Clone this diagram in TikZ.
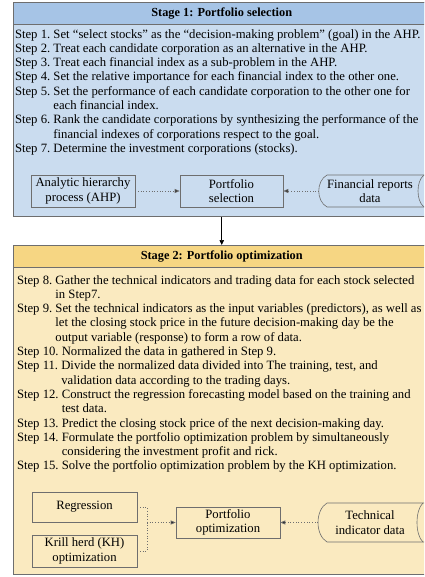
\documentclass[tikz,border=0pt]{standalone}
\usepackage{fontspec}
\setmainfont{Liberation Serif}
\usetikzlibrary{arrows.meta}

\definecolor{bluehead}{HTML}{A6C4E6}
\definecolor{bluebody}{HTML}{CADCEF}
\definecolor{goldhead}{HTML}{F6D683}
\definecolor{goldbody}{HTML}{FAEAC0}
\definecolor{edgegray}{HTML}{6E6E6E}

\newcommand\steptext{\fontsize{12.7}{14.3}\selectfont}
% one step: label column, then the text (continuation rows start with &)
\newcommand\steprow[2]{\begin{tabular}{@{}l@{\ }l@{}}#1&#2\end{tabular}}

\tikzset{
  stagebox/.style={draw=edgegray, line width=0.8pt, anchor=north west,
    minimum width=417.3pt, inner sep=0pt},
  stagehead/.style={stagebox, minimum height=22pt,
    font=\fontsize{12.3}{14}\selectfont\bfseries},
  stepnode/.style={inner sep=0pt, outer sep=0pt, anchor=north west, font=\steptext},
  procbox/.style={draw=edgegray, line width=0.6pt, align=center,
    inner sep=0pt, font=\steptext},
  storetext/.style={align=center, inner sep=0pt, font=\steptext},
  storeline/.style={draw=edgegray, line width=0.6pt},
  dots/.style={draw=edgegray, line width=0.7pt, dotted},
  link/.style={dots, -{Triangle[length=5pt,width=4pt,fill=black!85]}},
  flow/.style={draw=black, line width=0.7pt, -{Triangle[length=5pt,width=4.5pt]}},
}

\begin{document}
\begin{tikzpicture}[x=1pt, y=-1pt]
\clip (0,0) rectangle (424,577);
\fill[white] (0,0) rectangle (424,577);

% ---------------- Stage 1 ----------------
\node[stagebox, fill=bluebody, minimum height=214pt] (stage1) at (12.7,2) {};
\node[stagehead, fill=bluehead] (head1) at (12.7,2) {Stage 1: Portfolio selection};

\node[stepnode] (s1) at (15,28) {\steprow{Step 1.}{Set “select stocks” as the “decision-making problem” (goal) in the AHP.}};
\node[stepnode] (s2) at (s1.south west) {\steprow{Step 2.}{Treat each candidate corporation as an alternative in the AHP.}};
\node[stepnode] (s3) at (s2.south west) {\steprow{Step 3.}{Treat each financial index as a sub-problem in the AHP.}};
\node[stepnode] (s4) at (s3.south west) {\steprow{Step 4.}{Set the relative importance for each financial index to the other one.}};
\node[stepnode] (s5) at (s4.south west) {\steprow{Step 5.}{Set the performance of each candidate corporation to the other one for\\ & each financial index.}};
\node[stepnode] (s6) at (s5.south west) {\steprow{Step 6.}{Rank the candidate corporations by synthesizing the performance of the\\ & financial indexes of corporations respect to the goal.}};
\node[stepnode] (s7) at (s6.south west) {\steprow{Step 7.}{Determine the investment corporations (stocks).}};

\node[procbox, minimum width=104pt, minimum height=32pt] (ahp) at (83,191)
  {Analytic hierarchy\\process (AHP)};
\node[procbox, minimum width=103pt, minimum height=32pt] (psel) at (231.5,191)
  {Portfolio\\selection};
\node[storetext] (fin) at (370,191) {Financial reports\\data};
\draw[storeline] (430,175) -- (327,175) .. controls (316,181) and (316,201) .. (327,207) -- (430,207);
\draw[storeline] (424,175) .. controls (416,181) and (416,201) .. (424,207);
\coordinate (finL) at (318.8,191);

\draw[link] (ahp.east) -- (psel.west);
\draw[link] (finL) -- (psel.east);

% ---------------- Stage 2 ----------------
\node[stagebox, fill=goldbody, minimum height=329pt] (stage2) at (12.7,245) {};
\node[stagehead, fill=goldhead] (head2) at (12.7,245) {Stage 2: Portfolio optimization};

\draw[flow] (stage1.south) -- (stage2.north);

\node[stepnode] (s8) at (17,274) {\steprow{Step 8.}{Gather the technical indicators and trading data for each stock selected\\ & in Step7.}};
\node[stepnode] (s9) at (s8.south west) {\steprow{Step 9.}{Set the technical indicators as the input variables (predictors), as well as\\ & let the closing stock price in the future decision-making day be the\\ & output variable (response) to form a row of data.}};
\node[stepnode] (s10) at (s9.south west) {\steprow{Step 10.}{Normalized the data in gathered in Step 9.}};
\node[stepnode] (s11) at (s10.south west) {\steprow{Step 11.}{Divide the normalized data divided into The training, test, and\\ & validation data according to the trading days.}};
\node[stepnode] (s12) at (s11.south west) {\steprow{Step 12.}{Construct the regression forecasting model based on the training and\\ & test data.}};
\node[stepnode] (s13) at (s12.south west) {\steprow{Step 13.}{Predict the closing stock price of the next decision-making day.}};
\node[stepnode] (s14) at (s13.south west) {\steprow{Step 14.}{Formulate the portfolio optimization problem by simultaneously\\ & considering the investment profit and rick.}};
\node[stepnode] (s15) at (s14.south west) {\steprow{Step 15.}{Solve the portfolio optimization problem by the KH optimization.}};

\node[procbox, minimum width=105pt, minimum height=30pt] (reg) at (84.5,507)
  {Regression};
\node[procbox, minimum width=105pt, minimum height=32pt] (krill) at (84.5,551)
  {Krill herd (KH)\\optimization};
\node[procbox, minimum width=104pt, minimum height=31pt] (popt) at (228,522.5)
  {Portfolio\\optimization};
\node[storetext] (tech) at (370,522.5) {Technical\\indicator data};
\draw[storeline] (430,503) -- (327,503) .. controls (315,510) and (315,535) .. (327,542) -- (430,542);
\draw[storeline] (423,503) .. controls (415,510) and (415,535) .. (423,542);
\coordinate (techL) at (318,522.5);

\coordinate (join) at (147,522.5);
\draw[dots] (reg.east) -| (join);
\draw[dots] (krill.east) -| (join);
\draw[link] (join) -- (popt.west);
\draw[link] (techL) -- (popt.east);
\end{tikzpicture}
\end{document}
